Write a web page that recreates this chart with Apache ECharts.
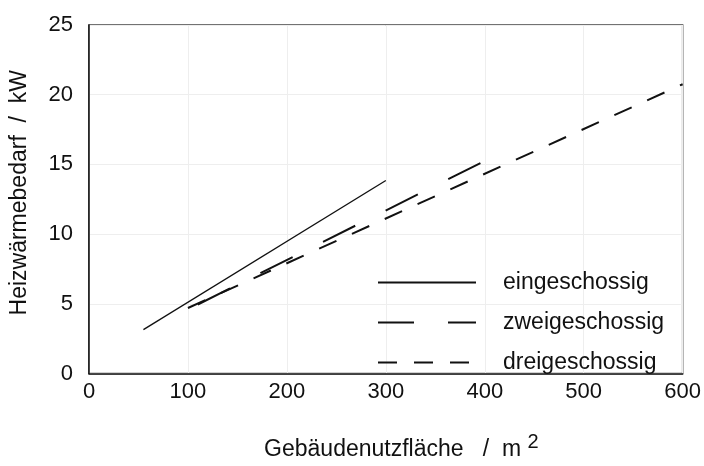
<!DOCTYPE html>
<html>
<head>
<meta charset="utf-8">
<script src="https://cdn.jsdelivr.net/npm/echarts@6/dist/echarts.min.js"></script>
<style>
html,body{margin:0;padding:0;background:#fff;}
#chart{width:704px;height:466px;}
</style>
</head>
<body>
<div id="chart"></div>
<script>
// Data (x = Gebäudenutzfläche m², y = Heizwärmebedarf kW)
var seriesNames = ['eingeschossig', 'zweigeschossig', 'dreigeschossig'];
var eingeschossig = [[55, 3.15], [300, 13.85]];
var zweigeschossig = [[110, 4.95], [400, 15.25]];
var dreigeschossig = [[100, 4.7], [600, 20.75]];
var xTicks = [0, 100, 200, 300, 400, 500, 600];
var yTicks = [0, 5, 10, 15, 20, 25];

var font = 'Liberation Sans, Arial, sans-serif';
var chart = echarts.init(document.getElementById('chart'), null, {renderer: 'canvas'});

chart.setOption({
  animation: false,
  backgroundColor: '#fff',
  grid: {
    left: 88, top: 25, right: 19, bottom: 78,
    show: true, borderColor: '#444', borderWidth: 1.5, backgroundColor: 'transparent'
  },
  legend: {
    show: true,
    orient: 'vertical',
    left: 372, top: 266,
    itemWidth: 98, itemHeight: 22, itemGap: 17,
    selectedMode: false,
    data: seriesNames,
    itemStyle: {opacity: 0, borderWidth: 0},
    textStyle: {fontFamily: font, fontSize: 23, color: '#111', padding: [0, 0, 8, 22]}
  },
  xAxis: {
    type: 'value', min: xTicks[0], max: xTicks[xTicks.length - 1], interval: 100,
    name: 'Gebäudenutzfläche   /  m {sup|2}',
    nameLocation: 'middle', nameGap: 59,
    nameTextStyle: {
      fontFamily: font, fontSize: 23, color: '#111', padding: [0, 0, 0, 31],
      rich: {sup: {fontFamily: font, fontSize: 20, color: '#111', verticalAlign: 'bottom', padding: [0, 0, 14, 0]}}
    },
    axisLine: {show: true, lineStyle: {color: '#111', width: 1.5}},
    axisTick: {show: false},
    axisLabel: {fontFamily: font, fontSize: 22, color: '#111', margin: 7},
    splitLine: {show: true, lineStyle: {color: '#eeeeee', width: 1}}
  },
  yAxis: {
    type: 'value', min: yTicks[0], max: yTicks[yTicks.length - 1], interval: 5,
    name: 'Heizwärmebedarf  /  kW',
    nameLocation: 'middle', nameGap: 58,
    nameTextStyle: {fontFamily: font, fontSize: 23, color: '#111', padding: [0, 0, 0, 13]},
    axisLine: {show: true, lineStyle: {color: '#111', width: 1.5}},
    axisTick: {show: false},
    axisLabel: {fontFamily: font, fontSize: 22, color: '#111', margin: 16},
    splitLine: {show: true, lineStyle: {color: '#eeeeee', width: 1}}
  },
  series: [
    {
      name: seriesNames[0], type: 'line', data: eingeschossig, symbol: 'none',
      lineStyle: {color: '#111', width: 1.3, type: 'solid'}, itemStyle: {color: '#111'}
    },
    {
      name: seriesNames[1], type: 'line', data: zweigeschossig, symbol: 'none',
      lineStyle: {color: '#111', width: 2, type: [36, 34]}, itemStyle: {color: '#111'}
    },
    {
      name: seriesNames[2], type: 'line', data: dreigeschossig, symbol: 'none',
      lineStyle: {color: '#111', width: 2, type: [19, 17]}, itemStyle: {color: '#111'}
    }
  ]
});
</script>
</body>
</html>
